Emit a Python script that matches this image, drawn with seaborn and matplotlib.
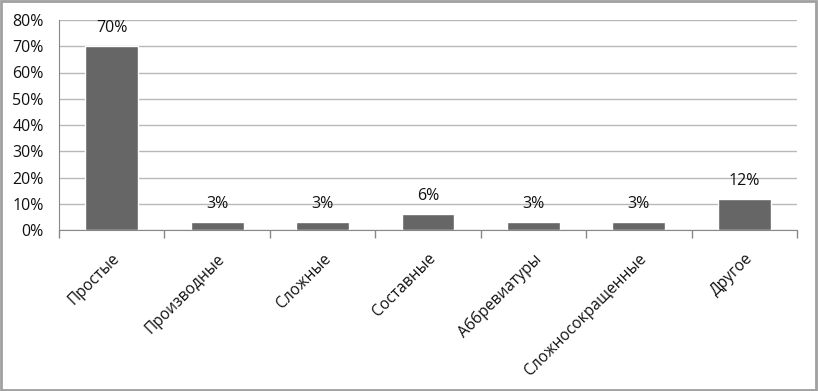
import numpy as np
import pandas as pd
import seaborn as sns
import matplotlib.pyplot as plt
from matplotlib.patches import Rectangle
from matplotlib.ticker import FixedLocator, PercentFormatter

categories = ["Простые", "Производные", "Сложные", "Составные",
              "Аббревиатуры", "Сложносокращенные", "Другое"]
shares = [70, 3, 3, 6, 3, 3, 12]
bar_labels = ["70%", "3%", "3%", "6%", "3%", "3%", "12%"]

df = pd.DataFrame({"category": categories, "share": shares})

sns.set_style("white")
plt.rcParams["font.family"] = ["Open Sans", "DejaVu Sans"]

fig = plt.figure(figsize=(8.18, 3.91), dpi=100)
ax = fig.add_axes([59 / 818, 1 - 230 / 391, 738 / 818, 210 / 391])

sns.barplot(data=df, x="category", y="share", color="#666666",
            saturation=1, width=0.5, ax=ax)

ax.set_ylim(0, 80)
ax.set_xlim(-0.5, len(categories) - 0.5)
ax.set_yticks(np.arange(0, 81, 10))
ax.yaxis.set_major_formatter(PercentFormatter(decimals=0))
ax.yaxis.grid(True, color="#b8b8b8", linewidth=1)
ax.set_axisbelow(True)
ax.tick_params(axis="y", length=0, labelsize=11.5, pad=11, colors="#111111")

# category ticks sit at the boundaries, labels at the centres
ax.set_xticks(range(len(categories)))
ax.set_xticklabels(categories, rotation=45, ha="right",
                   rotation_mode="anchor", fontsize=11.2, color="#111111")
ax.tick_params(axis="x", length=0, pad=15)
ax.xaxis.set_minor_locator(FixedLocator(np.arange(-0.5, len(categories), 1)))
ax.tick_params(axis="x", which="minor", bottom=True, length=6,
               color="#888888", width=1)

for s in ["top", "right"]:
    ax.spines[s].set_visible(False)
ax.spines["left"].set_color("#888888")
ax.spines["bottom"].set_color("#888888")

for i, (v, lab) in enumerate(zip(shares, bar_labels)):
    ax.text(i, v + 3.8, lab, ha="center", va="bottom", fontsize=11.5,
            color="#111111")

ax.set_xlabel("")
ax.set_ylabel("")

fig.patches.append(Rectangle((0.001, 0.002), 0.997, 0.995,
                             transform=fig.transFigure, fill=False,
                             edgecolor="#a0a0a0", linewidth=2))

fig.savefig("out.png", dpi=100)
